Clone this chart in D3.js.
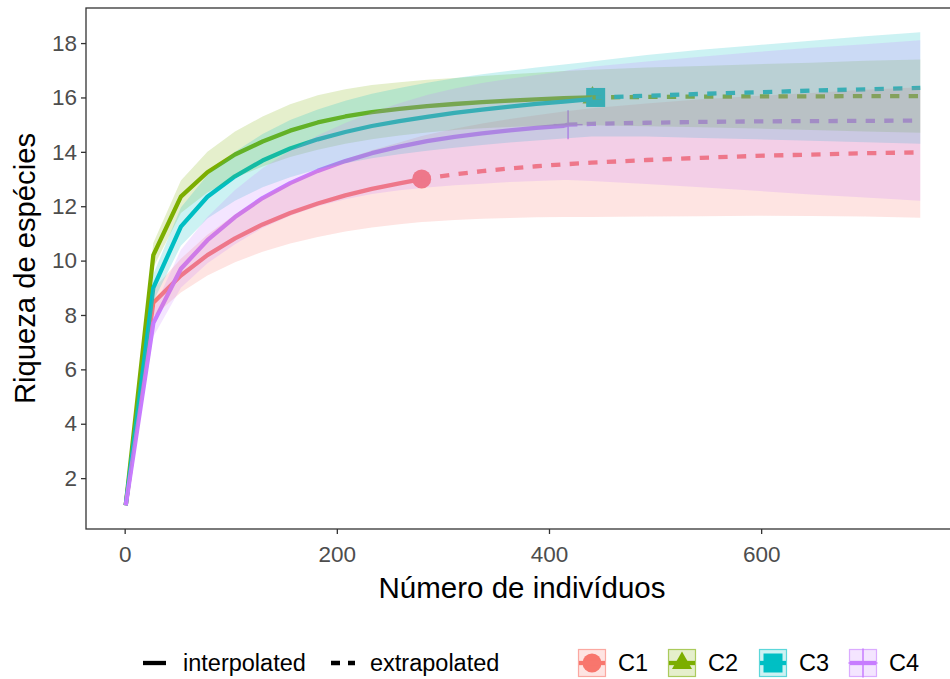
<!DOCTYPE html>
<html><head><meta charset="utf-8">
<script src="https://cdn.jsdelivr.net/npm/d3@7"></script>
<style>body{margin:0;background:#fff} text{font-family:"Liberation Sans",Arial,sans-serif}</style>
</head><body><svg id="c" width="950" height="679"></svg>
<script>
// ---- data ----
const knots = [1, 27, 53, 78, 104, 130, 156, 182, 208, 233, 259, 285, 311, 337, 363, 388, 414, 440, 492, 543, 595, 647, 698, 750];
const siteNames = ["C1", "C2", "C3", "C4"];
const obsSize = [280, 441, 444, 418];
const obsRich = [13, 16, 16, 15];
const obsLo = [11.42, 14.98, 14.56, 12.96];
const obsHi = [14.58, 17.02, 17.34, 17.0];

const estC1 = [1, 8.45, 9.45, 10.2, 10.82, 11.33, 11.75, 12.1, 12.4, 12.64, 12.84, 13.03, 13.17, 13.29, 13.39, 13.47, 13.54, 13.6, 13.7, 13.78, 13.85, 13.9, 13.95, 13.98];
const loC1  = [1, 7.95, 8.83, 9.45, 9.94, 10.33, 10.63, 10.87, 11.07, 11.22, 11.34, 11.43, 11.49, 11.54, 11.57, 11.59, 11.6, 11.6, 11.62, 11.63, 11.65, 11.64, 11.62, 11.58];
const hiC1  = [1, 8.95, 10.07, 10.95, 11.7, 12.33, 12.87, 13.33, 13.73, 14.06, 14.34, 14.63, 14.85, 15.04, 15.21, 15.35, 15.48, 15.6, 15.78, 15.93, 16.05, 16.16, 16.28, 16.38];

const estC2 = [1, 10.2, 12.35, 13.25, 13.9, 14.38, 14.78, 15.08, 15.3, 15.46, 15.58, 15.68, 15.76, 15.83, 15.88, 15.93, 15.97, 16.0, 16.02, 16.03, 16.04, 16.04, 16.05, 16.05];
const loC2  = [1, 9.75, 11.75, 12.5, 13.05, 13.46, 13.81, 14.08, 14.3, 14.46, 14.6, 14.71, 14.8, 14.87, 14.91, 14.95, 14.97, 14.98, 14.94, 14.9, 14.86, 14.8, 14.75, 14.7];
const hiC2  = [1, 10.65, 12.95, 14.0, 14.75, 15.3, 15.75, 16.08, 16.3, 16.46, 16.56, 16.65, 16.72, 16.79, 16.85, 16.91, 16.97, 17.02, 17.1, 17.16, 17.22, 17.28, 17.35, 17.4];

const estC3 = [1, 9.0, 11.25, 12.35, 13.1, 13.68, 14.12, 14.46, 14.73, 14.95, 15.13, 15.29, 15.43, 15.55, 15.66, 15.76, 15.85, 15.94, 16.06, 16.13, 16.19, 16.25, 16.3, 16.35];
const loC3  = [1, 8.5, 10.55, 11.55, 12.2, 12.7, 13.07, 13.36, 13.58, 13.76, 13.91, 14.04, 14.15, 14.25, 14.34, 14.42, 14.49, 14.56, 14.56, 14.51, 14.46, 14.41, 14.35, 14.3];
const hiC3  = [1, 9.5, 11.95, 13.15, 14.0, 14.66, 15.17, 15.56, 15.88, 16.14, 16.35, 16.54, 16.71, 16.85, 16.98, 17.1, 17.21, 17.32, 17.56, 17.75, 17.92, 18.09, 18.25, 18.4];

const estC4 = [1, 7.7, 9.7, 10.75, 11.6, 12.3, 12.85, 13.3, 13.66, 13.95, 14.19, 14.39, 14.55, 14.68, 14.79, 14.88, 14.96, 15.03, 15.07, 15.1, 15.12, 15.13, 15.14, 15.15];
const loC4  = [1, 7.2, 9.0, 9.9, 10.6, 11.2, 11.65, 12.0, 12.26, 12.45, 12.59, 12.69, 12.77, 12.83, 12.89, 12.93, 12.96, 12.93, 12.82, 12.7, 12.57, 12.43, 12.32, 12.2];
const hiC4  = [1, 8.2, 10.4, 11.6, 12.6, 13.4, 14.05, 14.6, 15.06, 15.45, 15.79, 16.09, 16.33, 16.53, 16.69, 16.83, 16.96, 17.13, 17.32, 17.5, 17.67, 17.83, 17.96, 18.1];

const xTicks = [0, 200, 400, 600];
const yTicks = [2, 4, 6, 8, 10, 12, 14, 16, 18];
const xTitle = "Número de indivíduos";
const yTitle = "Riqueza de espécies";
const lineTypeLabels = ["interpolated", "extrapolated"];
const colors = ["#F8766D", "#7CAE00", "#00BFC4", "#C77CFF"];

// ---- build ----
const ests = [estC1, estC2, estC3, estC4];
const los = [loC1, loC2, loC3, loC4];
const his = [hiC1, hiC2, hiC3, hiC4];
const series = siteNames.map((name, k) => {
  const pts = knots.map((m, i) => ({ m, est: ests[k][i], lo: los[k][i], hi: his[k][i] }));
  pts.push({ m: obsSize[k], est: obsRich[k], lo: obsLo[k], hi: obsHi[k] });
  pts.sort((a, b) => a.m - b.m);
  const n = obsSize[k];
  return { name, color: colors[k], n, S: obsRich[k], pts,
    interp: pts.filter(p => p.m <= n), extrap: pts.filter(p => p.m >= n) };
});

const svg = d3.select("#c");
const L = 86, R = 960, T = 8, B = 529;
const x = d3.scaleLinear().domain([-36.45, 787.45]).range([L, R]);
const y = d3.scaleLinear().domain([0.129, 19.29]).range([B, T]);

svg.append("defs").append("clipPath").attr("id", "clip")
  .append("rect").attr("x", L).attr("y", T).attr("width", R - L).attr("height", B - T);
const plot = svg.append("g").attr("clip-path", "url(#clip)");

const shapes = ["circle", "triangle", "square", "plus"];
function drawShape(g, k, cx, cy, col) {
  const s = shapes[k];
  if (s === "circle") g.append("circle").attr("cx", cx).attr("cy", cy).attr("r", 9.5).attr("fill", col);
  else if (s === "triangle") g.append("path").attr("d", `M${cx},${cy - 11.5}L${cx + 10},${cy + 6}L${cx - 10},${cy + 6}Z`).attr("fill", col);
  else if (s === "square") g.append("rect").attr("x", cx - 9.5).attr("y", cy - 9.5).attr("width", 19).attr("height", 19).attr("fill", col);
  else {
    g.append("line").attr("x1", cx).attr("x2", cx).attr("y1", cy - 14.5).attr("y2", cy + 14.5).attr("stroke", col).attr("stroke-width", 1.5);
    g.append("line").attr("x1", cx - 14.5).attr("x2", cx + 14.5).attr("y1", cy).attr("y2", cy).attr("stroke", col).attr("stroke-width", 1.5);
  }
}

// points
series.forEach((s, k) => drawShape(plot, k, x(s.n), y(s.S), s.color));

// lines
const line = d3.line().x(d => x(d.m)).y(d => y(d.est));
series.forEach(s => {
  plot.append("path").datum(s.interp).attr("d", line).attr("fill", "none")
    .attr("stroke", s.color).attr("stroke-width", 4.3).attr("stroke-linejoin", "round");
});
series.forEach(s => {
  plot.append("path").datum(s.extrap).attr("d", line).attr("fill", "none")
    .attr("stroke", s.color).attr("stroke-width", 4.3).attr("stroke-dasharray", "9.3,9.3");
});

// ribbons
const area = d3.area().x(d => x(d.m)).y0(d => y(d.lo)).y1(d => y(d.hi));
series.forEach(s => {
  plot.append("path").datum(s.pts).attr("d", area).attr("fill", s.color).attr("fill-opacity", 0.2);
});

// border
svg.append("rect").attr("x", L).attr("y", T).attr("width", R - L).attr("height", B - T)
  .attr("fill", "none").attr("stroke", "#333333").attr("stroke-width", 1.3);

// axes
const ax = svg.append("g").attr("transform", `translate(0,${B})`)
  .call(d3.axisBottom(x).tickValues(xTicks).tickSize(5).tickPadding(12).tickSizeOuter(0));
const ay = svg.append("g").attr("transform", `translate(${L},0)`)
  .call(d3.axisLeft(y).tickValues(yTicks).tickSize(5).tickPadding(4).tickSizeOuter(0));
[ax, ay].forEach(a => {
  a.select(".domain").remove();
  a.selectAll(".tick line").attr("stroke", "#333333").attr("stroke-width", 1.3);
  a.selectAll(".tick text").attr("fill", "#4D4D4D").style("font-size", "22.5px")
    .style("font-family", '"Liberation Sans", Arial, sans-serif');
});

svg.append("text").attr("x", (L + R) / 2 - 1).attr("y", 598).attr("text-anchor", "middle")
  .style("font-size", "29.5px").attr("fill", "#000").text(xTitle);
svg.append("text").attr("transform", `translate(35,${(T + B) / 2}) rotate(-90)`).attr("text-anchor", "middle")
  .style("font-size", "29.2px").attr("fill", "#000").text(yTitle);

// legend
const lg = svg.append("g");
const ly = 663;
lg.append("line").attr("x1", 143).attr("x2", 166).attr("y1", ly).attr("y2", ly).attr("stroke", "#000").attr("stroke-width", 4.3);
lg.append("text").attr("x", 183).attr("y", ly + 8).style("font-size", "23.5px").text(lineTypeLabels[0]);
lg.append("line").attr("x1", 331).attr("x2", 355).attr("y1", ly).attr("y2", ly).attr("stroke", "#000").attr("stroke-width", 4.3).attr("stroke-dasharray", "9,8");
lg.append("text").attr("x", 370).attr("y", ly + 8).style("font-size", "23.5px").text(lineTypeLabels[1]);

const keyX = [578, 668, 759, 849];
series.forEach((s, k) => {
  const kx = keyX[k], ky = 649, w = 28;
  const g = lg.append("g");
  g.append("rect").attr("x", kx + 0.5).attr("y", ky + 0.5).attr("width", w - 1).attr("height", w - 1)
    .attr("fill", s.color).attr("fill-opacity", 0.2).attr("stroke", s.color).attr("stroke-opacity", 0.6).attr("stroke-width", 1.2);
  drawShape(g, k, kx + w / 2, ky + w / 2, s.color);
  g.append("line").attr("x1", kx + 1).attr("x2", kx + w - 1).attr("y1", ky + w / 2).attr("y2", ky + w / 2)
    .attr("stroke", s.color).attr("stroke-width", 4.3);
  g.append("text").attr("x", kx + 40).attr("y", ly + 8).style("font-size", "23.5px").text(s.name);
});
</script></body></html>
